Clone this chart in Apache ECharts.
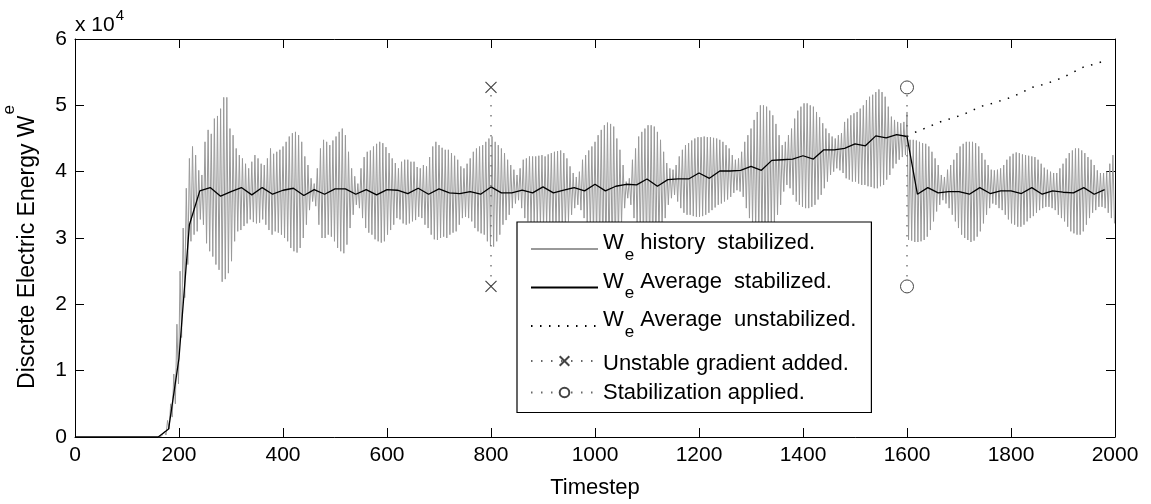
<!DOCTYPE html>
<html>
<head>
<meta charset="utf-8">
<script src="https://cdn.jsdelivr.net/npm/echarts@6/dist/echarts.min.js"></script>
<style>
  html, body { margin: 0; padding: 0; background: #fff; }
  #chart { width: 1151px; height: 504px; }
</style>
</head>
<body>
<div id="chart"></div>
<script>
// values in units of 10^4
const histStart = 160
const histStep = 3
// peaks at 160 + 6k
const histUpper = [
  0, 0.01, 0.08, 0.25, 0.5, 0.95, 1.7, 2.5, 3.15, 3.75,
  4.2, 4.38, 4.25, 4.02, 3.95, 4.45, 4.63, 4.57, 4.8, 4.84,
  4.95, 5.12, 5.12, 4.65, 4.55, 4.35, 4.25, 4.2, 4.12, 4.05,
  4.15, 4.25, 4.2, 4.12, 4.1, 4.2, 4.35, 4.27, 4.3, 4.33,
  4.38, 4.45, 4.53, 4.58, 4.6, 4.55, 4.45, 4.23, 4.1, 3.9,
  3.82, 4.05, 4.35, 4.48, 4.45, 4.4, 4.47, 4.53, 4.6, 4.65,
  4.55, 4.3, 4.05, 3.93, 3.82, 4.05, 4.22, 4.3, 4.32, 4.38,
  4.42, 4.45, 4.43, 4.37, 4.28, 4.2, 4.13, 4.05, 4.15, 4.18,
  4.18, 4.15, 4.15, 4.07, 4.05, 4.1, 4.08, 4.22, 4.38, 4.45,
  4.4, 4.36, 4.33, 4.33, 4.28, 4.24, 4.18, 4.08, 4.05, 4.12,
  4.2, 4.3, 4.35, 4.38, 4.4, 4.45, 4.5, 4.53, 4.45, 4.4,
  4.35, 4.28, 4.18, 4.1, 4.03, 3.95, 4.05, 4.18, 4.2, 4.23,
  4.23, 4.23, 4.24, 4.25, 4.23, 4.26, 4.28, 4.3, 4.31, 4.32,
  4.28, 4.2, 4.08, 3.98, 3.92, 4.0, 4.18, 4.25, 4.32, 4.38,
  4.45, 4.55, 4.63, 4.7, 4.74, 4.72, 4.68, 4.5, 4.33, 4.1,
  3.85, 3.9, 4.18, 4.35, 4.53, 4.6, 4.65, 4.7, 4.7, 4.68,
  4.6, 4.48, 4.3, 4.13, 4.05, 4.03, 4.1, 4.23, 4.33, 4.4,
  4.43, 4.47, 4.5, 4.52, 4.52, 4.53, 4.52, 4.52, 4.51, 4.5,
  4.48, 4.45, 4.4, 4.35, 4.25, 4.18, 4.2, 4.3, 4.45, 4.55,
  4.65, 4.78, 4.9, 5.0, 5.0, 4.98, 4.92, 4.85, 4.72, 4.55,
  4.4, 4.45, 4.55, 4.65, 4.8, 4.92, 4.98, 5.03, 5.03, 5.0,
  4.98, 4.9, 4.82, 4.73, 4.65, 4.58, 4.53, 4.5, 4.55, 4.58,
  4.75, 4.8, 4.85, 4.88, 4.9, 4.95, 5.0, 5.08, 5.13, 5.16,
  5.2, 5.24, 5.2, 5.13, 4.98, 4.83, 4.78, 4.75, 4.73, 4.75,
  4.9, 4.48, 4.48, 4.47, 4.45, 4.43, 4.42, 4.38, 4.3, 4.2,
  4.1, 3.95, 3.92, 4.03, 4.1, 4.18, 4.28, 4.38, 4.42, 4.45,
  4.45, 4.45, 4.43, 4.38, 4.28, 4.18, 4.1, 4.03, 4.02, 4.03,
  4.05, 4.1, 4.18, 4.23, 4.27, 4.29, 4.28, 4.26, 4.25, 4.24,
  4.23, 4.22, 4.18, 4.12, 4.06, 4.03, 4.0, 3.98, 3.98, 4.05,
  4.12, 4.2, 4.28, 4.32, 4.35, 4.35, 4.32, 4.28, 4.22, 4.18,
  4.1, 4.02, 3.98, 3.98, 4.0, 4.12, 4.25
]
// troughs at 163 + 6k
const histLower = [
  0, 0, 0.03, 0.12, 0.3, 0.5, 0.8, 1.5, 2.1, 2.6,
  2.95, 3.05, 3.1, 3.28, 3.2, 2.92, 2.8, 2.72, 2.6, 2.52,
  2.34, 2.38, 2.47, 2.65, 2.95, 3.1, 3.12, 3.18, 3.22, 3.28,
  3.24, 3.22, 3.23, 3.28, 3.2, 3.12, 3.05, 3.1, 3.08, 3.05,
  3.0, 2.95, 2.85, 2.8, 2.78, 2.85, 3.0, 3.2, 3.42, 3.55,
  3.48, 3.2, 3.0, 3.0, 3.05, 3.02, 2.95, 2.85, 2.8, 2.77,
  2.9, 3.15, 3.35, 3.5, 3.45, 3.3, 3.15, 3.08, 3.05, 2.98,
  2.95, 2.93, 2.95, 3.05, 3.12, 3.2, 3.3, 3.28, 3.22, 3.2,
  3.22, 3.25, 3.27, 3.32, 3.3, 3.2, 3.15, 3.05, 2.98, 2.97,
  3.0, 3.02, 3.0, 3.05, 3.08, 3.1, 3.2, 3.3, 3.32, 3.3,
  3.25, 3.15, 3.1, 3.07, 3.05, 2.95, 2.88, 2.87, 2.95, 3.05,
  3.2, 3.27, 3.35, 3.45, 3.52, 3.57, 3.45, 3.3, 3.25, 3.22,
  3.2, 3.2, 3.18, 3.17, 3.2, 3.18, 3.15, 3.12, 3.12, 3.1,
  3.15, 3.25, 3.35, 3.45, 3.5, 3.42, 3.3, 3.2, 3.1, 3.05,
  3.0, 2.9, 2.8, 2.75, 2.7, 2.72, 2.8, 3.0, 3.2, 3.45,
  3.6, 3.5, 3.3, 3.15, 3.0, 2.9, 2.85, 2.8, 2.78, 2.82,
  2.95, 3.1, 3.3, 3.5, 3.6, 3.65, 3.55, 3.45, 3.38, 3.35,
  3.35, 3.33, 3.32, 3.32, 3.33, 3.35, 3.38, 3.42, 3.46, 3.5,
  3.52, 3.55, 3.58, 3.62, 3.68, 3.72, 3.7, 3.62, 3.45, 3.3,
  3.2, 3.1, 3.0, 2.95, 2.95, 3.0, 3.1, 3.2, 3.35, 3.5,
  3.7, 3.8, 3.75, 3.65, 3.55, 3.5, 3.47, 3.45, 3.45, 3.47,
  3.5, 3.58, 3.65, 3.75, 3.85, 3.95, 4.0, 4.05, 4.02, 3.98,
  3.9, 3.88, 3.85, 3.85, 3.82, 3.8, 3.8, 3.78, 3.77, 3.75,
  3.75, 3.78, 3.8, 3.88, 3.95, 4.05, 4.12, 4.18, 4.22, 4.25,
  2.97, 2.96, 2.94, 2.94, 2.95, 2.97, 3.02, 3.12, 3.25, 3.4,
  3.5, 3.57, 3.52, 3.45, 3.35, 3.25, 3.15, 3.05, 3.0, 2.97,
  2.94, 2.96, 3.02, 3.1, 3.22, 3.35, 3.45, 3.52, 3.5, 3.45,
  3.42, 3.35, 3.28, 3.22, 3.2, 3.17, 3.17, 3.2, 3.25, 3.3,
  3.33, 3.38, 3.42, 3.45, 3.47, 3.47, 3.45, 3.42, 3.35, 3.3,
  3.25, 3.17, 3.1, 3.07, 3.05, 3.05, 3.1, 3.2, 3.3, 3.38,
  3.42, 3.47, 3.47, 3.45, 3.38, 3.3, 3.22
]

// 20-step average, t = 0 .. 1980
const avgStep = 20
const avgStable = [
  0, 0, 0, 0, 0, 0, 0, 0, 0, 0.12, 1.19, 3.2, 3.71, 3.76, 3.63, 3.70, 3.76, 3.65, 3.76, 3.66,
  3.72, 3.75, 3.64, 3.73, 3.66, 3.74, 3.74, 3.66, 3.73, 3.65, 3.73, 3.72, 3.67, 3.75, 3.66, 3.74, 3.68, 3.67, 3.70, 3.66,
  3.77, 3.68, 3.68, 3.72, 3.68, 3.77, 3.68, 3.72, 3.76, 3.71, 3.81, 3.71, 3.78, 3.81, 3.80, 3.89, 3.78, 3.88, 3.89, 3.89,
  3.98, 3.90, 4.01, 4.01, 4.02, 4.08, 4.02, 4.17, 4.18, 4.19, 4.24, 4.19, 4.33, 4.33, 4.35, 4.42, 4.39, 4.54, 4.51, 4.56,
  4.53, 3.66, 3.76, 3.68, 3.70, 3.70, 3.66, 3.76, 3.67, 3.71, 3.71, 3.67, 3.76, 3.66, 3.71, 3.69, 3.68, 3.76, 3.66, 3.73
]
// unstabilized average, t = 1600 .. 1980
const unstStart = 1600
const avgUnstable = [
  4.53, 4.61, 4.67, 4.74, 4.79, 4.84, 4.90, 4.98, 5.02, 5.07,
  5.12, 5.19, 5.27, 5.31, 5.36, 5.42, 5.50, 5.58, 5.62, 5.67
]

const gradientStep = 800
const stabilizeStep = 1600
const eventRange = [2.27, 5.27]

const xTicks = [0, 2000, 200]
const yTicks = [0, 6, 1]

const fontFamily = 'Liberation Sans, Arial, Helvetica, sans-serif'

const history = []
for (let i = 0; i < histUpper.length; i++) {
  history.push([histStart + i * histStep * 2, histUpper[i]])
  if (i < histLower.length) {
    history.push([histStart + i * histStep * 2 + histStep, histLower[i]])
  }
}
const avgData = avgStable.map((v, i) => [i * avgStep, v])
const unstData = avgUnstable.map((v, i) => [unstStart + i * avgStep, v])
const gradData = eventRange.map(v => [gradientStep, v])
const stabData = eventRange.map(v => [stabilizeStep, v])

const names = [
  'W_e history  stabilized.',
  'W_e Average  stabilized.',
  'W_e Average  unstabilized.',
  'Unstable gradient added.',
  'Stabilization applied.'
]
// plain lines get no marker in the legend
const noMarker = { color: 'rgba(0,0,0,0)', borderWidth: 0 }

function axisBase(extra) {
  return Object.assign({
    type: 'value',
    axisLine: { show: true, onZero: false, lineStyle: { color: '#000', width: 1 } },
    axisTick: { show: true, inside: true, length: 9, lineStyle: { color: '#000', width: 1 } },
    splitLine: { show: false },
    axisLabel: { show: false }
  }, extra)
}

const chart = echarts.init(document.getElementById('chart'), null, { renderer: 'canvas' })
chart.setOption({
  animation: false,
  backgroundColor: '#fff',
  textStyle: { fontFamily: fontFamily, color: '#000' },
  title: {
    text: '{a|x 10}{b|4}',
    left: 75,
    top: 8,
    padding: 0,
    textStyle: {
      fontWeight: 'normal',
      rich: {
        a: { fontSize: 21, fontWeight: 'normal', color: '#000', fontFamily: fontFamily },
        b: { fontSize: 15, fontWeight: 'normal', color: '#000', fontFamily: fontFamily, padding: [0, 0, 20, 1] }
      }
    }
  },
  grid: { left: 75, right: 36, top: 39, bottom: 67, containLabel: false, outerBoundsMode: 'none' },
  xAxis: [
    axisBase({
      min: xTicks[0], max: xTicks[1], interval: xTicks[2],
      position: 'bottom',
      axisLabel: {
        show: true, fontSize: 21, color: '#000', margin: 8, fontFamily: fontFamily,
        formatter: v => String(v)
      },
      name: 'Timestep',
      nameLocation: 'middle',
      nameGap: 40,
      nameTextStyle: { fontSize: 22, color: '#000', fontFamily: fontFamily }
    }),
    axisBase({ min: xTicks[0], max: xTicks[1], interval: xTicks[2], position: 'top' })
  ],
  yAxis: [
    axisBase({
      min: yTicks[0], max: yTicks[1], interval: yTicks[2],
      position: 'left',
      axisLabel: { show: true, fontSize: 21, color: '#000', margin: 8, fontFamily: fontFamily },
      name: '{t|Discrete Electric Energy W}{s|e}',
      nameLocation: 'middle',
      nameGap: 36,
      nameTextStyle: {
        padding: [0, 18, 0, 0],
        rich: {
          t: { fontSize: 23, color: '#000', fontFamily: fontFamily, padding: [18, 0, 0, 0] },
          s: { fontSize: 17, color: '#000', fontFamily: fontFamily, padding: [0, 0, 18, 1] }
        }
      }
    }),
    axisBase({ min: yTicks[0], max: yTicks[1], interval: yTicks[2], position: 'right' })
  ],
  legend: {
    orient: 'vertical',
    left: 517,
    top: 222,
    padding: [10, 15, 9, 13],
    itemGap: 7,
    itemWidth: 67,
    itemHeight: 12,
    backgroundColor: '#fff',
    borderColor: '#000',
    borderWidth: 1.2,
    borderRadius: 0,
    selectedMode: false,
    data: [
      { name: names[0], itemStyle: noMarker },
      { name: names[1], itemStyle: noMarker },
      { name: names[2], itemStyle: noMarker },
      { name: names[3] },
      { name: names[4] }
    ],
    formatter: function (name) {
      if (name.indexOf('W_e') === 0) {
        return '{w|W}{s|e}{w|' + name.slice(3) + '}'
      }
      if (name === names[3]) {
        return '{q|' + name + '}'
      }
      return '{p|' + name + '}'
    },
    textStyle: {
      fontSize: 22,
      color: '#000',
      fontFamily: fontFamily,
      rich: {
        w: { fontSize: 22, color: '#000', fontFamily: fontFamily, padding: [0, 0, 12, 0] },
        s: { fontSize: 17, color: '#000', fontFamily: fontFamily, padding: [12, 0, 0, 1] },
        p: { fontSize: 22, color: '#000', fontFamily: fontFamily, lineHeight: 25 },
        q: { fontSize: 22, color: '#000', fontFamily: fontFamily, lineHeight: 25, padding: [5, 0, 0, 0] }
      }
    }
  },
  series: [
    {
      name: names[0],
      type: 'line',
      data: history,
      symbol: 'none',
      sampling: null,
      lineStyle: { color: '#999', width: 1 },
      itemStyle: { color: '#999' },
      z: 2
    },
    {
      name: names[1],
      type: 'line',
      data: avgData,
      symbol: 'none',
      lineStyle: { color: '#000', width: 1.3 },
      itemStyle: { color: '#000' },
      z: 3
    },
    {
      name: names[2],
      type: 'line',
      data: unstData,
      symbol: 'none',
      lineStyle: { color: '#000', width: 1.5, type: [1.5, 7.5] },
      itemStyle: { color: '#000' },
      z: 3
    },
    {
      name: names[3],
      type: 'line',
      data: gradData,
      symbol: 'path://M0,0L10,10M10,0L0,10',
      symbolSize: 11,
      showSymbol: true,
      lineStyle: { color: '#666', width: 1.3, type: [1.5, 8.5] },
      itemStyle: { color: 'rgba(0,0,0,0)', borderColor: '#444', borderWidth: 1.2 },
      z: 3
    },
    {
      name: names[4],
      type: 'line',
      data: stabData,
      symbol: 'circle',
      symbolSize: 13,
      showSymbol: true,
      lineStyle: { color: '#666', width: 1.3, type: [1.5, 8.5] },
      itemStyle: { color: '#fff', borderColor: '#444', borderWidth: 1 },
      z: 3
    }
  ]
})
</script>
</body>
</html>
